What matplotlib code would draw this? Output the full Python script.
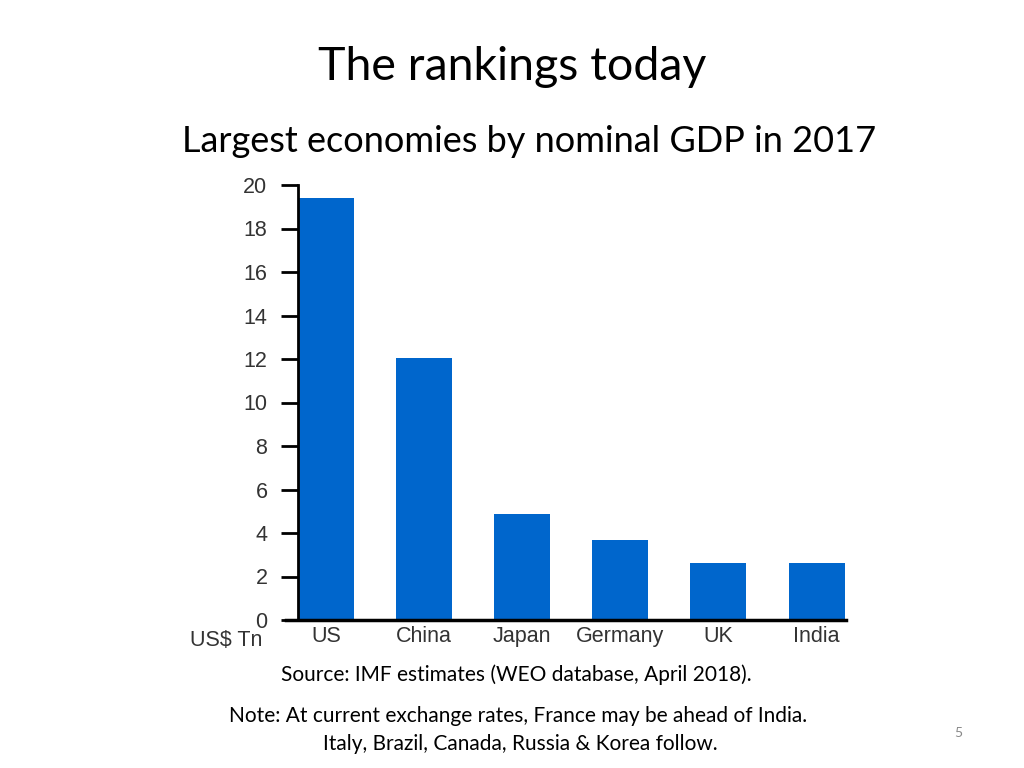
import matplotlib
matplotlib.use("Agg")
import matplotlib.pyplot as plt

countries = ["US", "China", "Japan", "Germany", "UK", "India"]
gdp = [19.4, 12.05, 4.87, 3.68, 2.62, 2.62]
yticks = [0, 2, 4, 6, 8, 10, 12, 14, 16, 18, 20]

W, H = 1024, 768
fig = plt.figure(figsize=(10.24, 7.68), dpi=100)
ax = fig.add_axes([298 / W, 1 - 620 / H, (846 - 298) / W, (620 - 185) / H])

x = range(len(countries))
ax.bar(x, gdp, width=0.57, color="#0066CC")
ax.set_xlim(-0.285, len(countries) - 1 + 0.3)
ax.set_ylim(0, 20)
ax.set_yticks(yticks)
ax.set_xticks(list(x))
ax.set_xticklabels(countries)
for s in ["top", "right"]:
    ax.spines[s].set_visible(False)
ax.spines["left"].set_linewidth(2)
ax.spines["bottom"].set_linewidth(2.5)
ax.spines["bottom"].set_bounds(-0.41, len(countries) - 1 + 0.3)
ax.tick_params(axis="y", direction="out", length=12, width=2, pad=10,
               labelsize=15.5, labelcolor="#333333")
ax.tick_params(axis="x", length=0, pad=4, labelsize=15.5, labelcolor="#333333")
for lab in ax.get_xticklabels() + ax.get_yticklabels():
    lab.set_family("Liberation Sans")

fig.text(262 / W, 1 - 641 / H, "US$ Tn", ha="right", va="center",
         fontsize=15.5, color="#333333", family="Liberation Sans")

fig.text(512 / W, 1 - 67 / H, "The rankings today", ha="center", va="center",
         fontsize=33.5, color="black", family="Lato")
fig.text(529 / W, 1 - 142 / H, "Largest economies by nominal GDP in 2017",
         ha="center", va="center", fontsize=26, color="black", family="Lato")
fig.text(516 / W, 1 - 675 / H, "Source: IMF estimates (WEO database, April 2018).",
         ha="center", va="center", fontsize=15, color="black", family="Lato")
fig.text(518 / W, 1 - 716 / H, "Note: At current exchange rates, France may be ahead of India.",
         ha="center", va="center", fontsize=15, color="black", family="Lato")
fig.text(520 / W, 1 - 744 / H, "Italy, Brazil, Canada, Russia & Korea follow.",
         ha="center", va="center", fontsize=15, color="black", family="Lato")
fig.text(958 / W, 1 - 733 / H, "5", ha="center", va="center",
         fontsize=10, color="#888888", family="Lato")

fig.savefig("out.png", dpi=100)
